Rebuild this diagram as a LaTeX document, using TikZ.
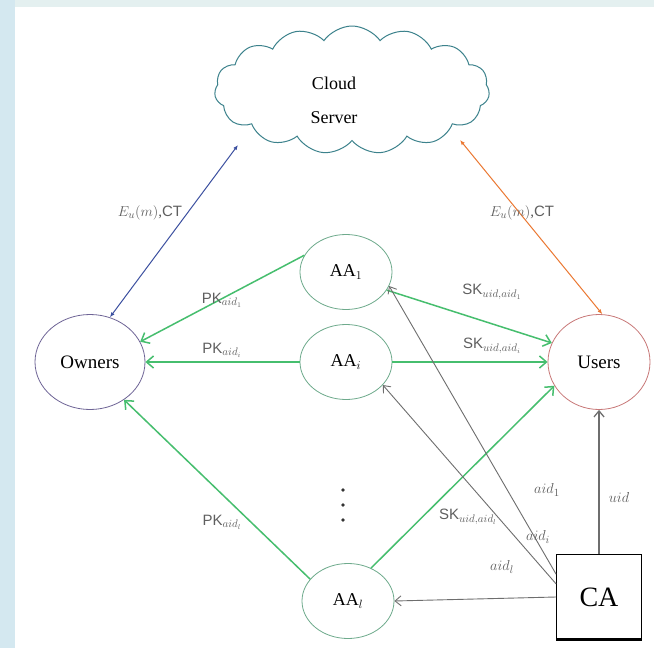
\documentclass[tikz,border=0pt]{standalone}
\usepackage{fontspec}
\setmainfont{Liberation Serif}
\setsansfont{Liberation Sans}
\usetikzlibrary{shapes.symbols,shapes.geometric,arrows.meta}
\definecolor{bluearr}{RGB}{60,80,160}
\definecolor{orangearr}{RGB}{235,120,50}
\definecolor{greenarr}{RGB}{70,190,110}
\definecolor{grayarr}{RGB}{110,110,110}
\definecolor{cloudc}{RGB}{60,130,140}
\definecolor{ownc}{RGB}{110,100,150}
\definecolor{userc}{RGB}{200,120,120}
\definecolor{aac}{RGB}{110,170,140}
\definecolor{bgblue}{RGB}{212,232,240}
\definecolor{bgtop}{RGB}{228,240,240}
\definecolor{labc}{RGB}{95,95,95}
\tikzset{
  entity/.style={ellipse, draw, line width=0.8pt, inner sep=0pt, font=\fontsize{19}{21}\selectfont},
  aanode/.style={entity, draw=aac, minimum width=92, minimum height=75, font=\fontsize{18}{20}\selectfont},
  greenarrow/.style={draw=greenarr, line width=1.5pt, -{Straight Barb[length=7pt,width=12pt]}},
  grayarrow/.style={draw=grayarr, line width=0.9pt, -{Straight Barb[length=6pt,width=10pt]}},
  dataarrow/.style={line width=1pt, {Latex[length=5pt,width=4pt]}-{Latex[length=5pt,width=4pt]}},
  lab/.style={text=labc, font=\fontsize{15}{17}\selectfont, inner sep=1pt},
  dotnode/.style={circle, fill=black!80, inner sep=1.3pt}
}
\begin{document}
\begin{tikzpicture}[x=1pt,y=-1pt]
\useasboundingbox (0,0) rectangle (654,648);
\fill[white] (0,0) rectangle (654,648);
\fill[bgtop] (0,0) rectangle (654,7);
\fill[bgblue] (0,0) rectangle (15,648);

% nodes
\node[cloud, cloud puffs=15, cloud puff arc=110, aspect=2.3, draw=cloudc, line width=1pt,
      minimum width=275, minimum height=128] (cloud) at (352,90) {};
\node[align=center, font=\fontsize{18}{20}\selectfont] (cloudtext) at (334,100) {Cloud\\[14pt]Server};
\node[entity, draw=ownc, minimum width=110, minimum height=95] (owners) at (90,362) {Owners};
\node[entity, draw=userc, minimum width=102, minimum height=95] (users) at (599,362) {Users};
\node[aanode] (aa1) at (346,272) {AA$_1$};
\node[aanode] (aai) at (346,362) {AA$_i$};
\node[aanode] (aal) at (348,601) {AA$_l$};
\node[draw, line width=0.8pt, minimum width=85, minimum height=85, font=\fontsize{28}{30}\selectfont] (ca) at (599,597) {CA};
\draw[line width=3pt] (ca.south west) -- (ca.south east);
\node[dotnode] (d1) at (343,490) {};
\node[dotnode] (d2) at (343,505) {};
\node[dotnode] (d3) at (343,520) {};

% cloud links
\coordinate (bluetop) at (238,145);
\coordinate (orangetop) at (460,140);
\draw[dataarrow, draw=bluearr] (bluetop) -- (owners.66);
\draw[dataarrow, draw=orangearr] (orangetop) -- (users.86);
\node[lab] (lblue) at (150,213) {$E_u(m)$,\textsf{CT}};
\node[lab] (lorange) at (522,213) {$E_u(m)$,\textsf{CT}};

% PK arrows
\draw[greenarrow] (aa1.158) -- (owners.22);
\draw[greenarrow] (aai.west) -- (owners.east);
\draw[greenarrow] (aal.150) -- (owners.-48);
\node[lab] (pk1) at (222,300) {\textsf{PK}$_{aid_1}$};
\node[lab] (pki) at (222,350) {\textsf{PK}$_{aid_i}$};
\node[lab] (pkl) at (222,522) {\textsf{PK}$_{aid_l}$};

% SK arrows
\draw[greenarrow] (aa1.-24) -- (users.158);
\draw[greenarrow] (aai.east) -- (users.west);
\draw[greenarrow] (aal.55) -- (users.208);
\node[lab] (sk1) at (492,292) {\textsf{SK}$_{uid,aid_1}$};
\node[lab] (ski) at (492,346) {\textsf{SK}$_{uid,aid_i}$};
\node[lab] (skl) at (468,517) {\textsf{SK}$_{uid,aid_l}$};

% CA arrows
\draw[grayarrow] (ca.152) -- (aa1.-18);
\draw[grayarrow] (ca.163) -- (aai.-32);
\draw[grayarrow] (ca.west) -- (aal.east);
\draw[grayarrow, line width=1.3pt] (ca.north) -- (users.south);
\node[lab] (a1) at (547,490) {$aid_1$};
\node[lab] (ai) at (538,537) {$aid_i$};
\node[lab] (al) at (502,567) {$aid_l$};
\node[lab] (u) at (619,497) {$uid$};
\end{tikzpicture}
\end{document}
